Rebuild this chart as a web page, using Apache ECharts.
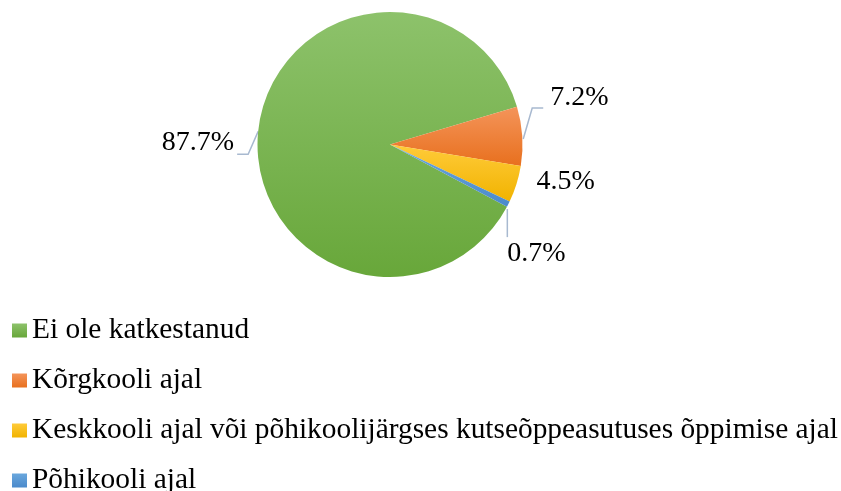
<!DOCTYPE html>
<html>
<head>
<meta charset="utf-8">
<script src="https://cdn.jsdelivr.net/npm/echarts@6/dist/echarts.min.js"></script>
<style>
  html, body { margin: 0; padding: 0; background: #fff; }
  #chart { width: 841px; height: 491px; }
</style>
</head>
<body>
<div id="chart"></div>
<script>
// data
var categories = [
  'Ei ole katkestanud',
  'Kõrgkooli ajal',
  'Keskkooli ajal või põhikoolijärgses kutseõppeasutuses õppimise ajal',
  'Põhikooli ajal'
];
var shares = [87.7, 7.2, 4.5, 0.7];

// top / bottom colour of each slice gradient
var topColors = ['#8dc26b', '#f4945a', '#ffcb3a', '#6aa7dd'];
var bottomColors = ['#68a73a', '#e8701e', '#f1b300', '#4b8acb'];

function grad(i) {
  return new echarts.graphic.LinearGradient(0, 0, 0, 1, [
    { offset: 0, color: topColors[i] },
    { offset: 1, color: bottomColors[i] }
  ]);
}

var pieData = [];
for (var i = 0; i < categories.length; i++) {
  pieData.push({
    name: categories[i],
    value: shares[i],
    itemStyle: { color: grad(i) },
    labelLine: { show: i !== 2 }
  });
}

var font = '"Liberation Serif", "Times New Roman", serif';

// move each label next to where it sits in the picture, starting from the
// point on the pie edge that echarts hands us
function placeLabel(p) {
  var pts = p.labelLinePoints;
  var e = pts ? pts[0] : [p.rect.x + p.rect.width, p.rect.y + p.rect.height / 2];
  switch (p.dataIndex) {
    case 0:
      return {
        x: e[0] - 24, y: e[1] + 11, align: 'right', verticalAlign: 'middle',
        labelLinePoints: [e, [e[0] - 10, e[1] + 23], [e[0] - 21, e[1] + 23]]
      };
    case 1:
      return {
        x: e[0] + 28, y: e[1] - 38, align: 'left', verticalAlign: 'middle',
        labelLinePoints: [[e[0] + 1, e[1] + 3], [e[0] + 10, e[1] - 28], [e[0] + 21, e[1] - 28]]
      };
    case 2:
      return { x: e[0] + 20, y: e[1] - 2, align: 'left', verticalAlign: 'middle' };
    case 3:
      return {
        x: e[0] - 1, y: e[1] + 50, align: 'left', verticalAlign: 'middle',
        labelLinePoints: [[e[0] - 1, e[1] + 5], [e[0] - 1, e[1] + 33], [e[0] - 1, e[1] + 33]]
      };
  }
}

var chart = echarts.init(document.getElementById('chart'), null, { renderer: 'canvas' });

var option = {
  animation: false,
  backgroundColor: '#ffffff',
  legend: {
    orient: 'vertical',
    left: 12,
    top: 316,
    height: 220,
    padding: 0,
    itemWidth: 15,
    itemHeight: 14,
    itemGap: 21,
    icon: 'rect',
    textStyle: { fontFamily: font, fontSize: 29.4, color: '#000', lineHeight: 28 },
    data: categories
  },
  series: [{
    type: 'pie',
    center: [390, 144.5],
    radius: [0, 132.5],
    startAngle: -28,
    clockwise: true,
    avoidLabelOverlap: false,
    data: pieData,
    label: {
      show: true,
      position: 'outside',
      formatter: '{c}%',
      fontFamily: font,
      fontSize: 28,
      color: '#000'
    },
    labelLine: {
      show: true,
      length: 10,
      length2: 10,
      lineStyle: { color: '#a8b9d0', width: 1.5 }
    },
    labelLayout: placeLabel,
    emphasis: { disabled: true }
  }]
};

chart.setOption(option);
</script>
</body>
</html>
